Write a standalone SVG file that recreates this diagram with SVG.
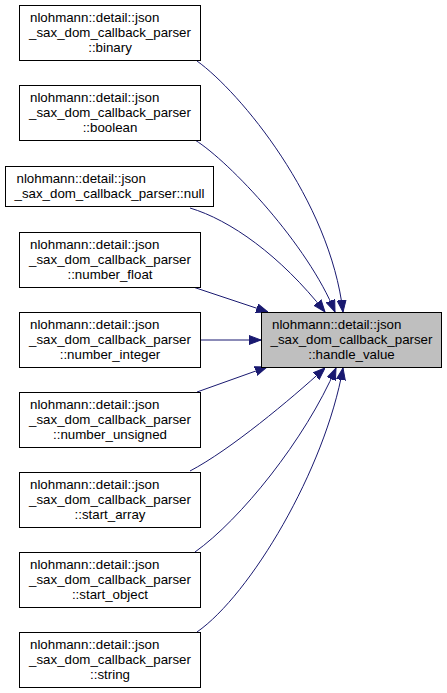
<svg xmlns="http://www.w3.org/2000/svg" width="447" height="693" viewBox="0 0 447 693">
<style>
.node rect{fill:#ffffff;stroke:#000000;stroke-width:1}
.node.focus rect{fill:#bfbfbf}
text{font-family:"Liberation Sans",Arial,Helvetica,sans-serif;font-size:13.3px;fill:#000000}
.m{text-anchor:middle}
.s{text-anchor:start}
.edge path{fill:none;stroke:#191970;stroke-width:1}
</style>
<defs>
<marker id="ah" markerUnits="userSpaceOnUse" viewBox="0 0 12 10" refX="12" refY="5" markerWidth="12" markerHeight="10" orient="auto">
<path d="M0,0.5 L12,5 L0,9.5 z" fill="#191970" stroke="#191970" stroke-width="1"/>
</marker>
</defs>
<rect width="447" height="693" fill="#ffffff"/>
<g id="edges" class="edge">
<path d="M197,61 C240,92 330,200 343,312" marker-end="url(#ah)"/>
<path d="M195,140 C230,162 308,245 335,312" marker-end="url(#ah)"/>
<path d="M190,208 C230,220 280,255 325,312" marker-end="url(#ah)"/>
<path d="M193,287 L268,312" marker-end="url(#ah)"/>
<path d="M201,340 L261,340" marker-end="url(#ah)"/>
<path d="M197,392 L267,367" marker-end="url(#ah)"/>
<path d="M190,471 C230,450 290,400 325,368" marker-end="url(#ah)"/>
<path d="M195,552 C240,520 305,440 336,368" marker-end="url(#ah)"/>
<path d="M197,632 C250,595 325,470 343,368" marker-end="url(#ah)"/>
</g>
<g id="handle_value" class="node focus">
<rect x="261.5" y="312.5" width="180" height="55"/>
<text class="s" x="272" y="328.5">nlohmann::detail::json</text>
<text class="m" x="351.5" y="343.5">_sax_dom_callback_parser</text>
<text class="m" x="351.5" y="358.5">::handle_value</text>
</g>
<g id="binary" class="node">
<rect x="19.5" y="5.5" width="181" height="55"/>
<text class="s" x="30" y="21.5">nlohmann::detail::json</text>
<text class="m" x="110" y="36.5">_sax_dom_callback_parser</text>
<text class="m" x="110" y="51.5">::binary</text>
</g>
<g id="boolean" class="node">
<rect x="19.5" y="85.5" width="181" height="55"/>
<text class="s" x="30" y="101.5">nlohmann::detail::json</text>
<text class="m" x="110" y="116.5">_sax_dom_callback_parser</text>
<text class="m" x="110" y="131.5">::boolean</text>
</g>
<g id="null" class="node">
<rect x="5.5" y="166.5" width="208" height="40"/>
<text class="s" x="16.5" y="183">nlohmann::detail::json</text>
<text class="m" x="109.5" y="198">_sax_dom_callback_parser::null</text>
</g>
<g id="number_float" class="node">
<rect x="19.5" y="232.5" width="181" height="55"/>
<text class="s" x="30" y="248.5">nlohmann::detail::json</text>
<text class="m" x="110" y="263.5">_sax_dom_callback_parser</text>
<text class="m" x="110" y="278.5">::number_float</text>
</g>
<g id="number_integer" class="node">
<rect x="19.5" y="312.5" width="181" height="55"/>
<text class="s" x="30" y="328.5">nlohmann::detail::json</text>
<text class="m" x="110" y="343.5">_sax_dom_callback_parser</text>
<text class="m" x="110" y="358.5">::number_integer</text>
</g>
<g id="number_unsigned" class="node">
<rect x="19.5" y="392.5" width="181" height="55"/>
<text class="s" x="30" y="408.5">nlohmann::detail::json</text>
<text class="m" x="110" y="423.5">_sax_dom_callback_parser</text>
<text class="m" x="110" y="438.5">::number_unsigned</text>
</g>
<g id="start_array" class="node">
<rect x="19.5" y="472.5" width="181" height="55"/>
<text class="s" x="30" y="488.5">nlohmann::detail::json</text>
<text class="m" x="110" y="503.5">_sax_dom_callback_parser</text>
<text class="m" x="110" y="518.5">::start_array</text>
</g>
<g id="start_object" class="node">
<rect x="19.5" y="552.5" width="181" height="55"/>
<text class="s" x="30" y="568.5">nlohmann::detail::json</text>
<text class="m" x="110" y="583.5">_sax_dom_callback_parser</text>
<text class="m" x="110" y="598.5">::start_object</text>
</g>
<g id="string" class="node">
<rect x="19.5" y="632.5" width="181" height="55"/>
<text class="s" x="30" y="648.5">nlohmann::detail::json</text>
<text class="m" x="110" y="663.5">_sax_dom_callback_parser</text>
<text class="m" x="110" y="678.5">::string</text>
</g>
</svg>
